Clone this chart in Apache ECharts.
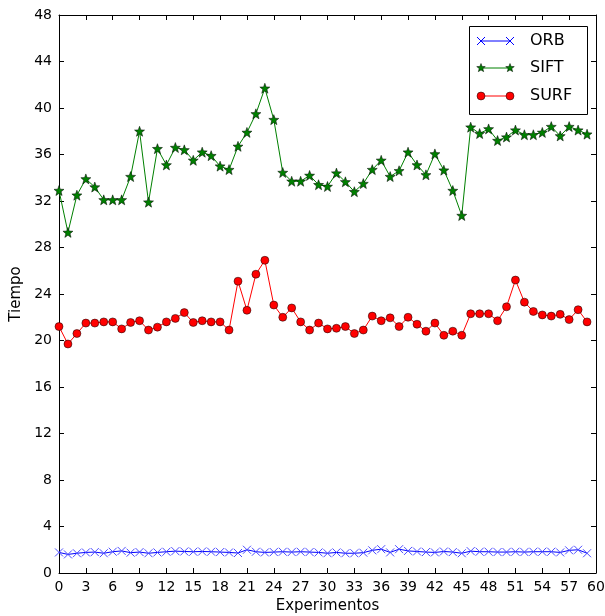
<!DOCTYPE html>
<html>
<head>
<meta charset="utf-8">
<script src="https://cdn.jsdelivr.net/npm/echarts@6/dist/echarts.min.js"></script>
<style>html,body{margin:0;padding:0;background:#fff}#c{width:605px;height:616px}</style>
</head>
<body>
<div id="c"></div>
<script>
var experiments = [0,1,2,3,4,5,6,7,8,9,10,11,12,13,14,15,16,17,18,19,20,21,22,23,24,25,26,27,28,29,30,31,32,33,34,35,36,37,38,39,40,41,42,43,44,45,46,47,48,49,50,51,52,53,54,55,56,57,58,59];
var orb = [1.77,1.6,1.7,1.77,1.8,1.7,1.83,1.9,1.75,1.8,1.7,1.77,1.83,1.88,1.85,1.83,1.85,1.83,1.8,1.77,1.72,2.0,1.83,1.77,1.8,1.83,1.8,1.83,1.8,1.77,1.7,1.77,1.7,1.7,1.75,1.95,2.05,1.77,2.05,1.9,1.85,1.8,1.77,1.85,1.8,1.7,1.88,1.83,1.83,1.8,1.8,1.83,1.8,1.83,1.83,1.83,1.77,1.95,2.0,1.7];
var sift = [32.9,29.3,32.5,33.9,33.2,32.1,32.1,32.1,34.1,38.0,31.9,36.5,35.1,36.6,36.4,35.5,36.2,35.9,35.0,34.7,36.7,37.9,39.5,41.7,39.0,34.45,33.7,33.7,34.2,33.4,33.25,34.4,33.65,32.8,33.5,34.7,35.5,34.1,34.6,36.2,35.1,34.25,36.05,34.65,32.9,30.75,38.35,37.8,38.2,37.2,37.5,38.1,37.7,37.7,37.9,38.4,37.6,38.4,38.1,37.75];
var surf = [21.2,19.7,20.6,21.5,21.5,21.6,21.6,21.0,21.55,21.7,20.9,21.15,21.6,21.9,22.4,21.55,21.7,21.6,21.6,20.9,25.1,22.6,25.7,26.9,23.05,22.0,22.8,21.6,20.9,21.5,21.0,21.05,21.2,20.6,20.9,22.1,21.7,21.95,21.2,22.0,21.4,20.8,21.5,20.45,20.8,20.45,22.3,22.3,22.3,21.7,22.9,25.2,23.3,22.5,22.2,22.1,22.25,21.8,22.65,21.6];
var seriesNames = ['ORB','SIFT','SURF'];
var xTitle = 'Experimentos';
var yTitle = 'Tiempo';

function pairs(v){ return experiments.map(function(x,i){ return [x, v[i]]; }); }

function starPts(cx, cy, R, r){
  var pts = [];
  for (var k = 0; k < 10; k++){
    var a = -Math.PI/2 + k*Math.PI/5;
    var rad = (k % 2 === 0) ? R : r;
    pts.push([cx + rad*Math.cos(a), cy + rad*Math.sin(a)]);
  }
  return pts;
}
var sp = starPts(10,10,10,4.2);
var starPath = 'path://M' + sp.map(function(p){return p[0].toFixed(2)+','+p[1].toFixed(2);}).join('L') + 'Z';
var xPath = 'path://M0,0L10,10M10,0L0,10';

var FONT = 'DejaVu Sans';
var chart = echarts.init(document.getElementById('c'), null, {renderer:'canvas'});

var axisCommonX = {
  type:'value', min:0, max:60, interval:3,
  axisLine:{show:true, onZero:false, lineStyle:{color:'#000', width:1}},
  axisTick:{show:true, inside:true, length:5, lineStyle:{color:'#000'}},
  splitLine:{show:false}
};
var axisCommonY = {
  type:'value', min:0, max:48, interval:4,
  axisLine:{show:true, onZero:false, lineStyle:{color:'#000', width:1}},
  axisTick:{show:true, inside:true, length:5, lineStyle:{color:'#000'}},
  splitLine:{show:false}
};

var legendX = 469, legendY = 26, legendW = 118, legendH = 88;
var rows = [41, 68, 96];
var lx1 = 481, lx2 = 510;
var graphics = [{
  type:'rect', z:100, shape:{x:legendX+0.5, y:legendY+0.5, width:legendW, height:legendH},
  style:{fill:'#fff', stroke:'#000', lineWidth:1}
}];
graphics.push({type:'line', z:101, shape:{x1:lx1,y1:rows[0],x2:lx2,y2:rows[0]}, style:{stroke:'#0000ff', lineWidth:1}});
[lx1,lx2].forEach(function(x){
  graphics.push({type:'line', z:102, shape:{x1:x-4,y1:rows[0]-4,x2:x+4,y2:rows[0]+4}, style:{stroke:'#0000ff', lineWidth:1}});
  graphics.push({type:'line', z:102, shape:{x1:x-4,y1:rows[0]+4,x2:x+4,y2:rows[0]-4}, style:{stroke:'#0000ff', lineWidth:1}});
});
graphics.push({type:'line', z:101, shape:{x1:lx1,y1:rows[1],x2:lx2,y2:rows[1]}, style:{stroke:'#008000', lineWidth:1}});
[lx1,lx2].forEach(function(x){
  graphics.push({type:'polygon', z:102, shape:{points:starPts(x, rows[1], 4.5, 1.9)}, style:{fill:'#008000', stroke:'#000', lineWidth:0.5}});
});
graphics.push({type:'line', z:101, shape:{x1:lx1,y1:rows[2],x2:lx2,y2:rows[2]}, style:{stroke:'#ff0000', lineWidth:1}});
[lx1,lx2].forEach(function(x){
  graphics.push({type:'circle', z:102, shape:{cx:x, cy:rows[2], r:4}, style:{fill:'#ff0000', stroke:'#000', lineWidth:0.5}});
});
seriesNames.forEach(function(n, i){
  graphics.push({type:'text', z:103, x:530, y:rows[i], style:{text:n, font:'16px "DejaVu Sans"', fill:'#000', verticalAlign:'middle', align:'left'}});
});

var option = {
  animation:false,
  backgroundColor:'#fff',
  textStyle:{fontFamily:FONT},
  grid:{left:59, right:9, top:15, bottom:43, containLabel:false, outerBoundsMode:'none'},
  xAxis:[
    Object.assign({}, axisCommonX, {
      position:'bottom',
      name:xTitle, nameLocation:'middle', nameGap:25,
      nameTextStyle:{fontSize:15, color:'#000', fontFamily:FONT},
      axisLabel:{show:true, fontSize:14, color:'#000', margin:7, fontFamily:FONT}
    }),
    Object.assign({}, axisCommonX, {position:'top', axisLabel:{show:false}})
  ],
  yAxis:[
    Object.assign({}, axisCommonY, {
      position:'left',
      name:yTitle, nameLocation:'middle', nameGap:30,
      nameTextStyle:{fontSize:15, color:'#000', fontFamily:FONT},
      axisLabel:{show:true, fontSize:14, color:'#000', margin:7, fontFamily:FONT}
    }),
    Object.assign({}, axisCommonY, {position:'right', axisLabel:{show:false}})
  ],
  series:[
    {
      name:seriesNames[0], type:'line', data:pairs(orb), xAxisIndex:0, yAxisIndex:0,
      symbol:xPath, symbolSize:8, showAllSymbol:true,
      lineStyle:{color:'#0000ff', width:1},
      itemStyle:{color:'rgba(0,0,0,0)', borderColor:'#4d4dff', borderWidth:1}
    },
    {
      name:seriesNames[1], type:'line', data:pairs(sift),
      symbol:starPath, symbolSize:10, showAllSymbol:true,
      lineStyle:{color:'#008000', width:1},
      itemStyle:{color:'#008000', borderColor:'#000', borderWidth:0.5}
    },
    {
      name:seriesNames[2], type:'line', data:pairs(surf),
      symbol:'circle', symbolSize:8, showAllSymbol:true,
      lineStyle:{color:'#ff0000', width:1},
      itemStyle:{color:'#ff0000', borderColor:'#000', borderWidth:0.5}
    }
  ],
  graphic:graphics
};
chart.setOption(option);
</script>
</body>
</html>
